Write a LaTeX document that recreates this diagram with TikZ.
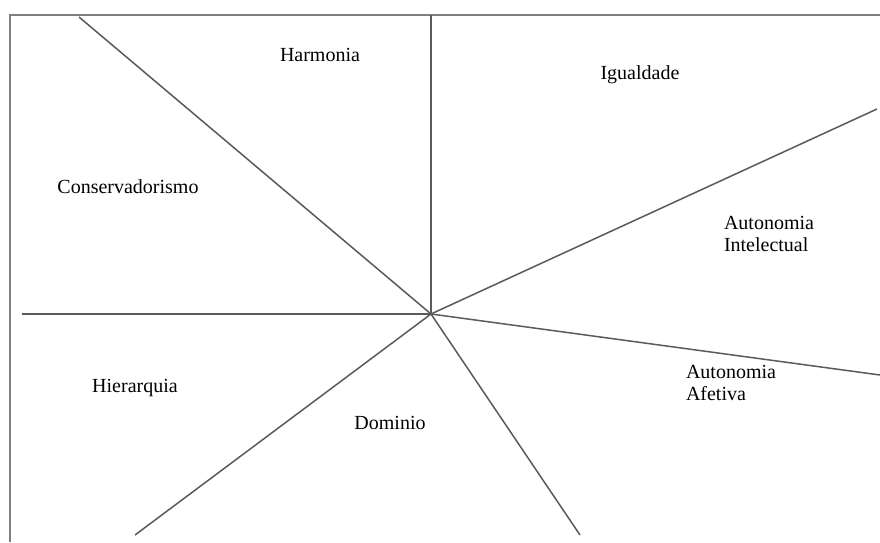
\documentclass[tikz,border=0pt]{standalone}
\usepackage{fontspec}
\setmainfont{Liberation Serif}
\usepackage{xcolor}
\usetikzlibrary{positioning}
\definecolor{rayline}{HTML}{5A5A5A}
\definecolor{frameline}{HTML}{808080}
\tikzset{
  ray/.style={draw=rayline, line width=0.75pt},
  frame/.style={draw=frameline, line width=1.1pt},
  lbl/.style={font=\fontsize{10}{11}\selectfont, inner sep=0pt, align=left}
}

\begin{document}
\begin{tikzpicture}[x=0.5pt, y=-0.5pt]
\useasboundingbox (0,0) rectangle (880,542);
\draw[frame] (10,542) -- (10,15) -- (880,15);
% centre and ray ends
\coordinate (c) at (431,314);
\coordinate (eup) at (431,15);
\coordinate (eleft) at (22,314);
\coordinate (eul) at (79,17);
\coordinate (eur) at (877,109);
\coordinate (ert) at (880,375);
\coordinate (edr) at (580,535);
\coordinate (edl) at (135,535);
\foreach \n in {up, left, ul, ur, rt, dr, dl} {
  \draw[ray] (c) -- (e\n);
}
\node[lbl] (harm) at (320,55) {Harmonia};
\node[lbl] (igual) at (640,75) {Igualdade};
\node[lbl] (cons) at (128,187) {Conservadorismo};
\node[lbl] (autint) at (769,234) {Autonomia\\Intelectual};
\node[lbl] (hier) at (135,388) {Hierarquia};
\node[lbl] (dom) at (390,423) {Dominio};
\node[lbl] (autaf) at (731,383) {Autonomia\\Afetiva};
\end{tikzpicture}
\end{document}
